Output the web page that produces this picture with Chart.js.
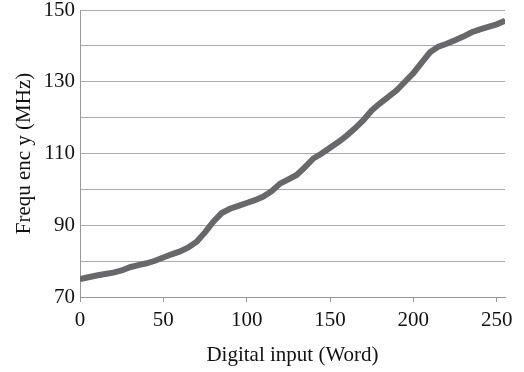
<!DOCTYPE html>
<html>
<head>
<meta charset="utf-8">
<script src="https://cdn.jsdelivr.net/npm/chart.js@4"></script>
<style>
  html, body { margin: 0; padding: 0; background: #fff; }
  #wrap { width: 524px; height: 372px; }
</style>
</head>
<body>
<div id="wrap"><canvas id="myChart" width="524" height="372"></canvas></div>
<script>
// valeurs
const digitalInput = [0, 5, 10, 15, 20, 25, 30, 35, 40, 45, 50, 55, 60, 65, 70, 75, 80, 85, 90, 95,
  100, 105, 110, 115, 120, 125, 130, 135, 140, 145, 150, 155, 160, 165, 170, 175, 180, 185, 190, 195,
  200, 205, 210, 215, 220, 225, 230, 235, 240, 245, 250, 255];
const frequency = [75.0, 75.5, 76.0, 76.4, 76.8, 77.4, 78.3, 78.9, 79.4, 80.1, 81.0, 81.9, 82.7, 83.8, 85.4, 88.0, 91.0, 93.4, 94.6, 95.4,
  96.2, 97.0, 98.0, 99.5, 101.6, 102.8, 104.0, 106.2, 108.6, 110.0, 111.6, 113.2, 115.0, 117.0, 119.3, 122.0, 124.0, 125.8, 127.6, 130.0,
  132.4, 135.3, 138.2, 139.8, 140.6, 141.6, 142.6, 143.8, 144.6, 145.3, 146.0, 147.0];
const xTicks = [0, 50, 100, 150, 200, 250];
const yLabels = [70, 90, 110, 130, 150];

const points = digitalInput.map((x, i) => ({ x: x, y: frequency[i] }));

const serif = "'Liberation Serif', 'DejaVu Serif', serif";

const config = {
  type: "line",
  data: {
    datasets: [
      {
        label: "Frequency",
        data: points,
        borderColor: "#68686c",
        backgroundColor: "#68686c",
        borderWidth: 6,
        pointStyle: "rect",
        pointRadius: 2.5,
        pointBorderWidth: 0,
        fill: false,
        tension: 0,
      }
    ],
  },
  options: {
    responsive: false,
    animation: false,
    layout: { padding: { top: 10, right: 19, left: 8, bottom: 0 } },
    plugins: {
      legend: { display: false },
      tooltip: { enabled: false },
    },
    scales: {
      x: {
        type: "linear",
        min: 0,
        max: 255,
        afterBuildTicks: (scale) => {
          scale.ticks = xTicks.map(v => ({ value: v }));
        },
        afterFit: (scale) => {
          scale.height = 75;
          scale.paddingLeft = 0;
          scale.paddingRight = 0;
        },
        ticks: {
          color: "#111",
          font: { family: serif, size: 21 },
          maxRotation: 0,
          padding: 6,
        },
        grid: {
          drawOnChartArea: false,
          drawTicks: true,
          tickLength: 5,
          color: "#999",
        },
        border: { color: "#999", width: 1 },
        title: {
          display: true,
          text: "Digital input (Word)",
          color: "#111",
          font: { family: serif, size: 21 },
          padding: { top: 2 },
        },
      },
      y: {
        min: 70,
        max: 150,
        afterFit: (scale) => {
          scale.width = 72;
          scale.paddingTop = 0;
          scale.paddingBottom = 0;
        },
        ticks: {
          stepSize: 10,
          color: "#111",
          font: { family: serif, size: 21 },
          padding: 5,
          callback: (v) => (yLabels.includes(v) ? v : ""),
        },
        grid: {
          color: "#aaa",
          lineWidth: 1,
          drawTicks: false,
        },
        border: { color: "#999", width: 1 },
        title: {
          display: true,
          text: "Frequ enc y (MHz)",
          color: "#111",
          font: { family: serif, size: 21 },
          padding: { bottom: 2 },
        },
      },
    },
  },
};

const context = document.getElementById("myChart").getContext("2d");
const chart = new Chart(context, config);
</script>
</body>
</html>
